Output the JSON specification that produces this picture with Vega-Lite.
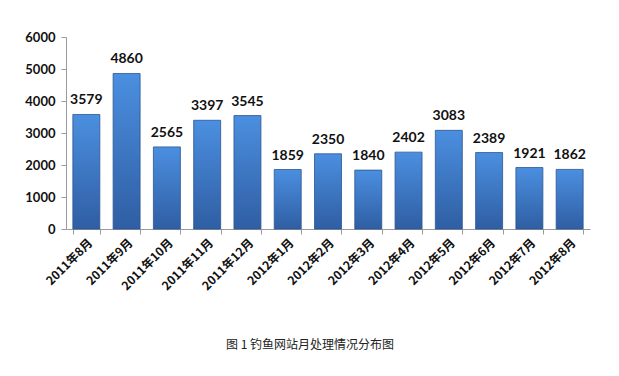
{
  "$schema": "https://vega.github.io/schema/vega-lite/v6.json",
  "autosize": "none",
  "width": 524,
  "height": 192,
  "padding": {"left": 66, "top": 37, "right": 29, "bottom": 147},
  "background": "white",
  "title": {
    "text": "图 1  钓鱼网站月处理情况分布图",
    "orient": "bottom",
    "anchor": "middle",
    "font": "Noto Sans CJK SC",
    "fontSize": 12,
    "fontWeight": "normal",
    "color": "#222222",
    "offset": 48,
    "dx": -18
  },
  "data": {
    "values": [
      {"month": "2011年8月", "count": 3579},
      {"month": "2011年9月", "count": 4860},
      {"month": "2011年10月", "count": 2565},
      {"month": "2011年11月", "count": 3397},
      {"month": "2011年12月", "count": 3545},
      {"month": "2012年1月", "count": 1859},
      {"month": "2012年2月", "count": 2350},
      {"month": "2012年3月", "count": 1840},
      {"month": "2012年4月", "count": 2402},
      {"month": "2012年5月", "count": 3083},
      {"month": "2012年6月", "count": 2389},
      {"month": "2012年7月", "count": 1921},
      {"month": "2012年8月", "count": 1862}
    ]
  },
  "config": {
    "view": {"stroke": null},
    "font": "Noto Sans CJK SC"
  },
  "encoding": {
    "x": {
      "field": "month",
      "type": "nominal",
      "sort": null,
      "scale": {"paddingInner": 0.33, "paddingOuter": 0.17},
      "axis": {
        "title": null,
        "labelAngle": -45,
        "labelFont": "Noto Sans CJK SC",
        "labelFontSize": 12,
        "labelFontWeight": "bold",
        "labelColor": "#111111",
        "domainColor": "#9a9a9a",
        "tickColor": "#9a9a9a",
        "tickBand": "extent",
        "tickSize": 5,
        "labelPadding": 3
      }
    },
    "y": {
      "field": "count",
      "type": "quantitative",
      "scale": {"domain": [0, 6000], "nice": false},
      "axis": {
        "title": null,
        "values": [0, 1000, 2000, 3000, 4000, 5000, 6000],
        "format": "d",
        "grid": false,
        "labelFont": "Lato",
        "labelFontSize": 13,
        "labelFontWeight": "bold",
        "labelColor": "#111111",
        "domainColor": "#9a9a9a",
        "tickColor": "#9a9a9a",
        "tickSize": 5,
        "labelPadding": 6
      }
    }
  },
  "layer": [
    {
      "mark": {
        "type": "bar",
        "stroke": "#2b5590",
        "strokeWidth": 0.8,
        "color": {
          "gradient": "linear",
          "x1": 0, "y1": 0, "x2": 0, "y2": 1,
          "stops": [
            {"offset": 0, "color": "#4b8fe0"},
            {"offset": 1, "color": "#2f5ea3"}
          ]
        }
      }
    },
    {
      "mark": {
        "type": "text",
        "baseline": "bottom",
        "dy": -7,
        "font": "Lato",
        "fontSize": 14,
        "fontWeight": "bold",
        "color": "#111111"
      },
      "encoding": {"text": {"field": "count", "type": "quantitative", "format": "d"}}
    }
  ]
}
